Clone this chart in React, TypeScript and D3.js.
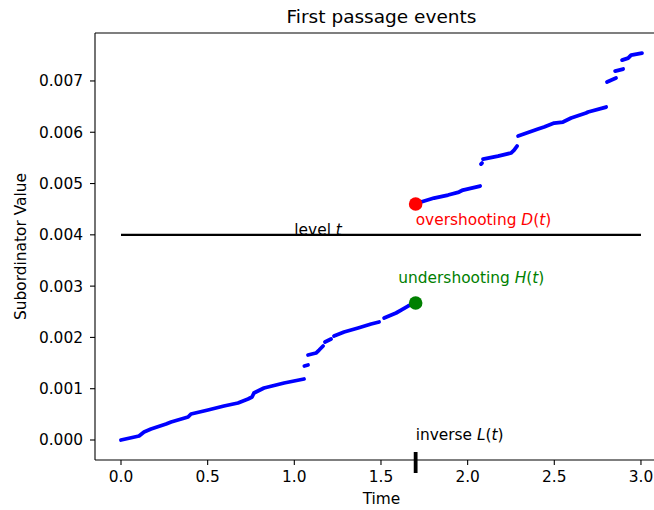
import React from "react";
import * as d3 from "d3";

const W = 654;
const H = 510;
const plot = { left: 95, top: 33, right: 668, bottom: 460 };

// Subordinator sample path, split wherever the process jumps: [time, value]
const pathSegments: [number, number][][] = [
  [[0, 0], [0.104, 0.000078], [0.133, 0.000156], [0.173, 0.000214], [0.26, 0.000312], [0.289, 0.000351],
   [0.387, 0.000448], [0.404, 0.000507], [0.502, 0.000585], [0.594, 0.000663], [0.675, 0.000721],
   [0.733, 0.000799], [0.756, 0.000838], [0.767, 0.000916], [0.825, 0.001014], [0.941, 0.001111], [1.056, 0.001189]],
  [[1.058, 0.001442], [1.079, 0.001462]],
  [[1.079, 0.001657], [1.125, 0.001696], [1.143, 0.001754], [1.166, 0.001832]],
  [[1.177, 0.00191], [1.212, 0.001969]],
  [[1.229, 0.002027], [1.287, 0.002105], [1.368, 0.002183], [1.443, 0.002261], [1.489, 0.0023]],
  [[1.518, 0.002378], [1.587, 0.002476], [1.616, 0.002534], [1.656, 0.002612], [1.697, 0.002671]],
  [[1.697, 0.0046], [1.731, 0.004639], [1.806, 0.004717], [1.887, 0.004776], [1.95, 0.004834], [1.973, 0.004873], [2.072, 0.004951]],
  [[2.077, 0.00538], [2.083, 0.0054]],
  [[2.089, 0.005478], [2.175, 0.005536], [2.25, 0.005595], [2.268, 0.005653], [2.285, 0.005731]],
  [[2.291, 0.005926], [2.406, 0.006062], [2.441, 0.006101], [2.499, 0.006179], [2.55, 0.006199],
   [2.597, 0.006277], [2.683, 0.006374], [2.695, 0.006394], [2.799, 0.006491]],
  [[2.804, 0.006979], [2.856, 0.007057]],
  [[2.851, 0.007193], [2.897, 0.007232]],
  [[2.891, 0.007407], [2.926, 0.007446], [2.943, 0.007505], [3.006, 0.007544]],
];

const levelValue = 0.004;
const levelSpan = [0, 3.0];
const inverseTime = 1.7;
const undershootValue = 0.00267;
const overshootValue = 0.0046;

const xTicks = [0, 0.5, 1.0, 1.5, 2.0, 2.5, 3.0];
const xTickLabels = ["0.0", "0.5", "1.0", "1.5", "2.0", "2.5", "3.0"];
const yTicks = [0, 0.001, 0.002, 0.003, 0.004, 0.005, 0.006, 0.007];
const yTickLabels = ["0.000", "0.001", "0.002", "0.003", "0.004", "0.005", "0.006", "0.007"];

const FONT = "'DejaVu Sans', sans-serif";
const fs = 15.4;

export default function App() {
  const x = d3.scaleLinear().domain([-0.15, 3.156]).range([plot.left, plot.right]);
  const y = d3.scaleLinear().domain([-0.00039, 0.007935]).range([plot.bottom, plot.top]);
  const line = d3
    .line<[number, number]>()
    .x((d) => x(d[0]))
    .y((d) => y(d[1]));

  const L = x(inverseTime);

  return (
    <svg
      width={W}
      height={H}
      style={{ position: "absolute", left: 0, top: 0, background: "#fff" }}
      fontFamily={FONT}
    >
      <rect x={0} y={0} width={W} height={H} fill="#fff" />

      {/* sample path */}
      {pathSegments.map((seg, i) => (
        <path
          key={i}
          d={line(seg) ?? ""}
          fill="none"
          stroke="#0000ff"
          strokeWidth={3.8}
          strokeLinecap="round"
          strokeLinejoin="round"
        />
      ))}

      {/* level label and line */}
      <text x={x(1.0)} y={y(levelValue)} fontSize={fs} fill="#000">
        level <tspan fontStyle="italic">t</tspan>
      </text>
      <line
        x1={x(levelSpan[0])}
        x2={x(levelSpan[1])}
        y1={y(levelValue)}
        y2={y(levelValue)}
        stroke="#000"
        strokeWidth={2.1}
      />

      {/* overshoot / undershoot markers */}
      <circle cx={L} cy={y(overshootValue)} r={6.8} fill="#ff0000" />
      <circle cx={L} cy={y(undershootValue)} r={6.8} fill="#008000" />
      <text x={L} y={y(overshootValue - 0.0004)} fontSize={fs} fill="#ff0000">
        overshooting <tspan fontStyle="italic">D</tspan>(<tspan fontStyle="italic">t</tspan>)
      </text>
      <text x={x(inverseTime - 0.1)} y={y(undershootValue + 0.0004)} fontSize={fs} fill="#008000">
        undershooting <tspan fontStyle="italic">H</tspan>(<tspan fontStyle="italic">t</tspan>)
      </text>
      <text x={L} y={y(0)} fontSize={fs} fill="#000">
        inverse <tspan fontStyle="italic">L</tspan>(<tspan fontStyle="italic">t</tspan>)
      </text>

      {/* axes frame */}
      <line x1={plot.left} x2={plot.right} y1={plot.bottom} y2={plot.bottom} stroke="#000" strokeWidth={1.1} />
      <line x1={plot.left} x2={plot.right} y1={plot.top} y2={plot.top} stroke="#000" strokeWidth={1.1} />
      <line x1={plot.left} x2={plot.left} y1={plot.top} y2={plot.bottom} stroke="#000" strokeWidth={1.1} />
      <line x1={plot.right} x2={plot.right} y1={plot.top} y2={plot.bottom} stroke="#000" strokeWidth={1.1} />

      {/* x ticks */}
      {xTicks.map((t, i) => (
        <g key={i}>
          <line x1={x(t)} x2={x(t)} y1={plot.bottom} y2={plot.bottom + 5} stroke="#000" strokeWidth={1.1} />
          <text x={x(t)} y={plot.bottom + 22} fontSize={fs} textAnchor="middle" fill="#000">
            {xTickLabels[i]}
          </text>
        </g>
      ))}

      {/* y ticks */}
      {yTicks.map((v, i) => (
        <g key={i}>
          <line x1={plot.left - 5} x2={plot.left} y1={y(v)} y2={y(v)} stroke="#000" strokeWidth={1.1} />
          <text x={plot.left - 12} y={y(v) + 5.5} fontSize={fs} textAnchor="end" fill="#000">
            {yTickLabels[i]}
          </text>
        </g>
      ))}

      {/* inverse time marker on the time axis */}
      <line x1={L} x2={L} y1={plot.bottom - 8} y2={plot.bottom + 13} stroke="#000" strokeWidth={3.8} />

      {/* titles */}
      <text x={(plot.left + plot.right) / 2} y={23} fontSize={18.5} textAnchor="middle" fill="#000">
        First passage events
      </text>
      <text x={(plot.left + plot.right) / 2} y={504} fontSize={fs} textAnchor="middle" fill="#000">
        Time
      </text>
      <text
        transform={`translate(26, ${(plot.top + plot.bottom) / 2}) rotate(-90)`}
        fontSize={fs}
        textAnchor="middle"
        fill="#000"
      >
        Subordinator Value
      </text>
    </svg>
  );
}
